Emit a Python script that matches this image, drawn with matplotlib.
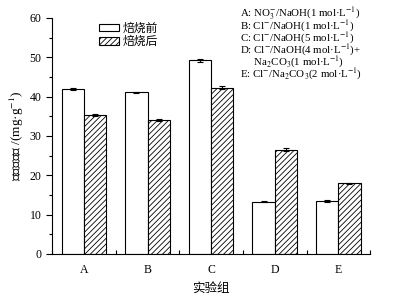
import numpy as np
import matplotlib.pyplot as plt
from matplotlib.ticker import MultipleLocator

groups = ["A", "B", "C", "D", "E"]
before = [42.0, 41.1, 49.2, 13.3, 13.5]
after = [35.4, 34.1, 42.3, 26.5, 18.0]
before_err = [0.2, 0.2, 0.5, 0.2, 0.2]
after_err = [0.3, 0.2, 0.4, 0.4, 0.1]
legend_labels = ["焙烧前", "焙烧后"]
notes = [
    r"A: NO$_3^{-}$/NaOH(1 mol·L$^{-1}$)",
    r"B: Cl$^{-}$/NaOH(1 mol·L$^{-1}$)",
    r"C: Cl$^{-}$/NaOH(5 mol·L$^{-1}$)",
    r"D: Cl$^{-}$/NaOH(4 mol·L$^{-1}$)+",
    r"     Na$_2$CO$_3$(1 mol·L$^{-1}$)",
    r"E: Cl$^{-}$/Na$_2$CO$_3$(2 mol·L$^{-1}$)",
]

plt.rcParams["font.family"] = ["Liberation Serif", "Noto Sans CJK SC"]
plt.rcParams["mathtext.fontset"] = "stix"
plt.rcParams["hatch.linewidth"] = 0.6
plt.rcParams["hatch.color"] = "#555555"

fig = plt.figure(figsize=(3.95, 2.95), dpi=100)
ax = fig.add_axes([0.132, 0.139, 0.805, 0.80])

x = np.arange(1, len(groups) + 1)
w = 0.35
ax.bar(x - w / 2, before, w, color="white", edgecolor="black", linewidth=0.8,
       yerr=before_err, capsize=2, error_kw={"elinewidth": 0.8, "capthick": 0.8},
       label=legend_labels[0])
ax.bar(x + w / 2, after, w, color="white", edgecolor="black", linewidth=0.8,
       hatch="//////", yerr=after_err, capsize=2,
       error_kw={"elinewidth": 0.8, "capthick": 0.8}, label=legend_labels[1])

ax.set_xlim(0.5, 5.5)
ax.set_ylim(0, 60)
ax.set_xticks(x)
ax.set_xticklabels(groups)
ax.xaxis.set_minor_locator(MultipleLocator(1, offset=0.5))
ax.yaxis.set_major_locator(MultipleLocator(10))
ax.yaxis.set_minor_locator(MultipleLocator(5))
ax.tick_params(which="both", direction="out", labelsize=8.5, width=0.8)
ax.tick_params(axis="x", which="major", length=0, pad=7)
ax.tick_params(axis="x", which="minor", direction="in", length=3)
ax.tick_params(axis="y", which="major", length=4)
ax.tick_params(axis="y", which="minor", length=2.5)
for s in ["top", "right"]:
    ax.spines[s].set_visible(False)
for s in ["left", "bottom"]:
    ax.spines[s].set_linewidth(0.8)

ax.set_xlabel("实验组", fontsize=9, labelpad=5)
ax.set_ylabel(r"平衡吸附量 /(mg·g$^{-1}$)", fontsize=9.5, labelpad=3)

ax.legend(loc="upper left", bbox_to_anchor=(88 / 395, 1 - 12 / 295),
          bbox_transform=fig.transFigure, frameon=False,
          fontsize=8.5, handlelength=1.7, handleheight=0.65, labelspacing=0.12,
          handletextpad=0.3)

for i, line in enumerate(notes):
    fig.text(240 / 395, 1 - (17 + 12.2 * i) / 295, line, fontsize=7.8,
             va="baseline", ha="left")

fig.savefig("out.png", dpi=100)
